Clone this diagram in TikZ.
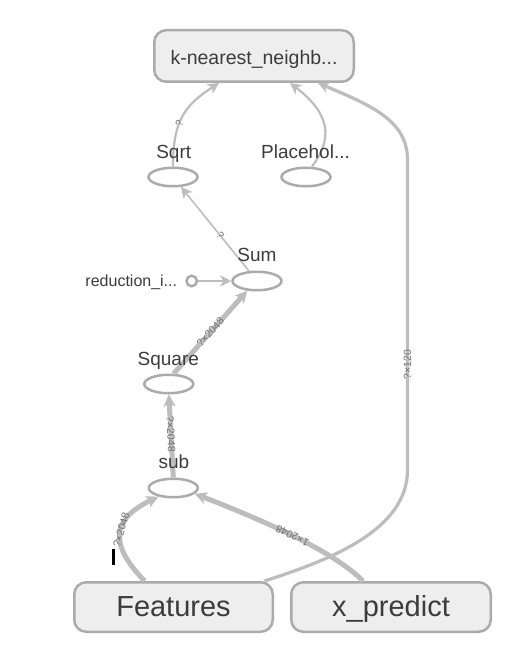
\documentclass[tikz,border=0pt]{standalone}
\usepackage{fontspec}
\setmainfont{Liberation Sans}
\usetikzlibrary{shapes.geometric,arrows.meta,calc}
\definecolor{edgegray}{HTML}{BDBDBD}
\definecolor{nodegray}{HTML}{ABABAB}
\definecolor{boxfill}{HTML}{EEEEEE}
\definecolor{txt}{HTML}{3C3C3C}
\definecolor{labgray}{HTML}{707070}
\begin{document}
\begin{tikzpicture}[x=1pt,y=-1pt,
  opnode/.style={ellipse,draw=nodegray,line width=2.5pt,minimum width=49pt,minimum height=18.5pt,inner sep=0pt},
  boxnode/.style={rectangle,rounded corners=12pt,draw=nodegray,fill=boxfill,line width=2.5pt,inner sep=0pt,text=txt},
  lbl/.style={text=txt,font=\fontsize{19}{19}\selectfont,inner sep=0pt},
  smalllbl/.style={text=txt,font=\fontsize{16}{16}\selectfont,inner sep=0pt},
  elab/.style={text=labgray,font=\fontsize{10.5}{10.5}\selectfont,inner sep=0.5pt},
  edge/.style={draw=edgegray,-{Stealth[length=11pt,width=11pt,inset=3pt]}},
  bigedge/.style={edge,line width=5pt,-{Stealth[length=12pt,width=12pt,inset=3pt]}}
]
\fill[white] (0,0) rectangle (509,647);
\useasboundingbox (0,0) rectangle (509,647);

% boxes
\node[boxnode,minimum width=199.5pt,minimum height=51.5pt,text height=18pt,text depth=0pt,font=\fontsize{19.5}{19.5}\selectfont] (knn) at (254,56) {k-nearest\_neighb...};
\node[boxnode,minimum width=198.5pt,minimum height=49.5pt,text height=19.4pt,text depth=0pt,font=\fontsize{29}{29}\selectfont] (feat) at (173.5,607) {Features};
\node[boxnode,minimum width=199.5pt,minimum height=49.5pt,text height=19.4pt,text depth=0pt,font=\fontsize{29}{29}\selectfont] (xp) at (391,607) {x\_predict};

% op nodes
\node[opnode] (sqrt) at (173,177) {};
\node[opnode] (ph) at (306,177) {};
\node[opnode] (sum) at (257,281) {};
\node[opnode] (sq) at (168.8,384) {};
\node[opnode] (sub) at (173.3,488) {};
\node[circle,draw=nodegray,line width=2.5pt,minimum size=10.5pt,inner sep=0pt] (red) at (191.7,281) {};

% edges
\draw[bigedge] ($(feat.north)+(-29,0)$) .. controls (110,545) and (110,520) .. (sub.210)
  node[elab,pos=0.55,sloped] {?×2048};
\draw[edge,line width=3.2pt] ($(feat.north)+(91,0)$) .. controls (330,560) and (407.5,530) .. (407.5,470)
  -- node[elab,sloped,pos=0.34] {?×120} (407.5,160)
  .. controls (407.5,120) and (370,105) .. ($(knn.south)+(64,0)$);
\draw[bigedge] ($(xp.north)+(-28,0)$) .. controls (332,550) and (262,520) .. (sub.-15)
  node[elab,pos=0.5,sloped,allow upside down] {1×2048};
\draw[bigedge] (sub.north) -- (sq.south) node[elab,pos=0.52,sloped] {?×2048};
\draw[bigedge] (sq.65) -- (sum.225) node[elab,pos=0.5,sloped] {?×2048};
\draw[edge,line width=2.2pt] (red) -- (sum.west);
\draw[edge,line width=1.6pt] (sum) -- (sqrt) node[elab,pos=0.42,sloped] {?};
\draw[edge,line width=2.2pt] (sqrt.north) .. controls (173,120) and (185,105) .. ($(knn.south)+(-35,0)$)
  node[elab,pos=0.4,sloped] {?};
\draw[edge,line width=2.2pt] ($(ph.north)+(6,0)$) .. controls (332,140) and (332,115) .. ($(knn.south)+(36,0)$);

% labels (above the edges)
\node[lbl,anchor=base] (sqrtl) at (173.7,158.3) {Sqrt};
\node[lbl,anchor=base] (phl) at (305.5,158.3) {Placehol...};
\node[lbl,anchor=base] (suml) at (257,261.7) {Sum};
\node[lbl,anchor=base] (sql) at (168.3,365) {Square};
\node[lbl,anchor=base] (subl) at (174,468.3) {sub};
\node[smalllbl,anchor=base east] (redl) at (177.3,286.7) {reduction\_i...};

% cursor mark
\fill[black] (112,549) rectangle (114.5,565);
\end{tikzpicture}
\end{document}
